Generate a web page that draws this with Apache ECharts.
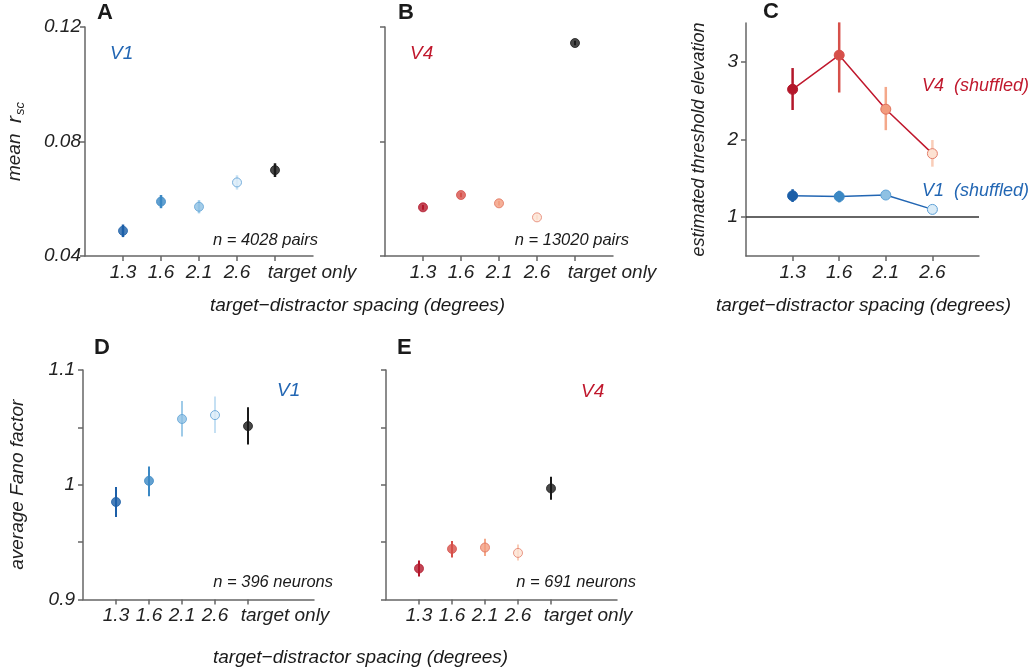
<!DOCTYPE html>
<html>
<head>
<meta charset="utf-8">
<title>crowding rsc / Fano / threshold</title>
<script src="https://cdn.jsdelivr.net/npm/echarts@6/dist/echarts.min.js"></script>
<style>
  html, body { margin: 0; padding: 0; background: #fff; }
  #chart { width: 1035px; height: 669px; }
</style>
</head>
<body>
<div id="chart"></div>
<script>
// ---- data ----
var spacing = ['1.3', '1.6', '2.1', '2.6', 'target only'];
var xPos = [1, 2, 3, 4, 5];

// A: V1 mean r_sc
var v1Rsc = [0.0488, 0.0590, 0.0572, 0.0657, 0.0700];
var v1RscErr = [0.0022, 0.0023, 0.0023, 0.0025, 0.0024];
// B: V4 mean r_sc
var v4Rsc = [0.0570, 0.0613, 0.0584, 0.0535, 0.1144];
var v4RscErr = [0.0008, 0.0008, 0.0008, 0.0008, 0.0008];

// C: estimated threshold elevation (shuffled)
var v4Thresh = [2.646, 3.086, 2.39, 1.818];
var v4ThreshLo = [2.38, 2.605, 2.12, 1.65];
var v4ThreshHi = [2.92, 3.508, 2.677, 1.994];
var v1Thresh = [1.275, 1.265, 1.285, 1.10];
var v1ThreshLo = [1.195, 1.19, 1.225, 1.085];
var v1ThreshHi = [1.36, 1.34, 1.335, 1.115];

// D: V1 average Fano factor
var v1Fano = [0.985, 1.0034, 1.0573, 1.0607, 1.0511];
var v1FanoLo = [0.972, 0.990, 1.042, 1.045, 1.035];
var v1FanoHi = [0.998, 1.016, 1.073, 1.077, 1.0675];
// E: V4 average Fano factor
var v4Fano = [0.927, 0.9441, 0.9453, 0.9406, 0.9968];
var v4FanoLo = [0.920, 0.9366, 0.938, 0.934, 0.987];
var v4FanoHi = [0.934, 0.951, 0.953, 0.948, 1.007];

// ---- styles ----
var FONT = 'Liberation Sans, Arial, Helvetica, sans-serif';
var blueFill = ['#1c5fa8', '#3b88c4', '#8ec1e3', '#d9ebf7', '#1a1a1a'];
var blueEdge = ['#1c5fa8', '#3b88c4', '#5fa2d6', '#5d9fd5', '#1a1a1a'];
var blueBar  = ['#1c5fa8', '#3b88c4', '#9fcbe8', '#c5e0f3', '#1a1a1a'];
var redFill  = ['#b3172a', '#d6504a', '#f29c7e', '#fde2d2', '#1a1a1a'];
var redEdge  = ['#b3172a', '#d6504a', '#e0705a', '#e4806c', '#1a1a1a'];
var redBar   = ['#b3172a', '#d6504a', '#f4a88a', '#f9cdb8', '#1a1a1a'];
var v1Color = '#2266b3', v4Color = '#c0182d';

var axisLine = { lineStyle: { color: '#666', width: 1.5 } };
var axisTick = { length: 5, lineStyle: { color: '#666', width: 1.5 } };
var tickFont = { fontFamily: FONT, fontStyle: 'italic', fontSize: 19, color: '#222' };

function pts(vals, fill, edge) {
  return vals.map(function (v, i) {
    return { value: [xPos[i], v], itemStyle: { color: fill[i], borderColor: edge[i], borderWidth: 1 } };
  });
}
function bars(lo, hi) {
  return lo.map(function (l, i) { return [xPos[i], l, hi[i]]; });
}
function symBars(vals, err) {
  return vals.map(function (v, i) { return [xPos[i], v - err[i], v + err[i]]; });
}
function errSeries(idx, data, colors, w) {
  return {
    type: 'custom', xAxisIndex: idx, yAxisIndex: idx, z: 1, silent: true,
    data: data,
    renderItem: function (params, api) {
      var a = api.coord([api.value(0), api.value(1)]);
      var b = api.coord([api.value(0), api.value(2)]);
      return { type: 'line', shape: { x1: a[0], y1: a[1], x2: b[0], y2: b[1] },
               style: { stroke: colors[params.dataIndex], lineWidth: w } };
    }
  };
}
function xAx(idx, max, n) {
  return {
    gridIndex: idx, type: 'value', min: 0, max: max,
    axisLine: axisLine, splitLine: { show: false },
    axisTick: { show: true, length: 5, lineStyle: axisTick.lineStyle, customValues: xPos.slice(0, n) },
    axisLabel: Object.assign({ margin: 7, hideOverlap: false, customValues: xPos.slice(0, n),
      formatter: function (v) {
        var s = spacing[v - 1];
        return v === 5 ? '{t|' + s + '}' : s;
      },
      rich: { t: { fontFamily: FONT, fontStyle: 'italic', fontSize: 19, color: '#222', padding: [0, 0, 0, 74] } }
    }, tickFont)
  };
}

var chart = echarts.init(document.getElementById('chart'));
var option = {
  animation: false,
  grid: [
    { left: 85, top: 27, width: 228, height: 229, outerBoundsMode: 'none' },
    { left: 385, top: 27, width: 228, height: 229, outerBoundsMode: 'none' },
    { left: 746, top: 23, width: 233, height: 233, outerBoundsMode: 'none' },
    { left: 83, top: 370, width: 231, height: 229.5, outerBoundsMode: 'none' },
    { left: 386, top: 370, width: 231, height: 229.5, outerBoundsMode: 'none' }
  ],
  xAxis: [xAx(0, 6, 5), xAx(1, 6, 5), xAx(2, 5, 4), xAx(3, 7, 5), xAx(4, 7, 5)],
  yAxis: [
    { gridIndex: 0, type: 'value', min: 0.04, max: 0.12, interval: 0.04,
      axisLine: axisLine, axisTick: axisTick, splitLine: { show: false },
      axisLabel: Object.assign({ margin: 4, formatter: function (v) { return v.toFixed(2); } }, tickFont),
      name: '{m|mean  }{r|r}{s|sc}', nameLocation: 'middle', nameGap: 58,
      nameTextStyle: { rich: {
        m: { fontFamily: FONT, fontStyle: 'italic', fontSize: 19, color: '#222', verticalAlign: 'top', lineHeight: 22 },
        r: { fontFamily: FONT, fontStyle: 'italic', fontSize: 21, color: '#222', verticalAlign: 'top', lineHeight: 22 },
        s: { fontFamily: FONT, fontStyle: 'italic', fontSize: 13, color: '#222', verticalAlign: 'top', lineHeight: 22, padding: [9, 0, 0, 1] }
      } } },
    { gridIndex: 1, type: 'value', min: 0.04, max: 0.12, interval: 0.04,
      axisLine: axisLine, axisTick: axisTick, splitLine: { show: false }, axisLabel: { show: false } },
    { gridIndex: 2, type: 'value', min: 0.5, max: 3.5,
      axisLine: axisLine, splitLine: { show: false },
      axisTick: { length: 5, lineStyle: axisTick.lineStyle, customValues: [1, 2, 3] },
      axisLabel: Object.assign({ margin: 8, customValues: [1, 2, 3] }, tickFont),
      name: 'estimated threshold elevation', nameLocation: 'middle', nameGap: 38,
      nameTextStyle: { fontFamily: FONT, fontStyle: 'italic', fontSize: 18, color: '#222' } },
    { gridIndex: 3, type: 'value', min: 0.9, max: 1.1, interval: 0.05,
      axisLine: axisLine, axisTick: axisTick, splitLine: { show: false },
      axisLabel: Object.assign({ margin: 8, customValues: [0.9, 1, 1.1] }, tickFont),
      name: 'average Fano factor', nameLocation: 'middle', nameGap: 56,
      nameTextStyle: { fontFamily: FONT, fontStyle: 'italic', fontSize: 19, color: '#222' } },
    { gridIndex: 4, type: 'value', min: 0.9, max: 1.1, interval: 0.05,
      axisLine: axisLine, axisTick: axisTick, splitLine: { show: false }, axisLabel: { show: false } }
  ],
  series: [
    errSeries(0, symBars(v1Rsc, v1RscErr), blueBar, 2.5),
    { type: 'scatter', xAxisIndex: 0, yAxisIndex: 0, symbolSize: 9, z: 3, data: pts(v1Rsc, blueFill, blueEdge) },
    errSeries(1, symBars(v4Rsc, v4RscErr), redBar, 2),
    { type: 'scatter', xAxisIndex: 1, yAxisIndex: 1, symbolSize: 9, z: 3, data: pts(v4Rsc, redFill, redEdge) },

    errSeries(2, bars(v4ThreshLo, v4ThreshHi), redBar, 2.5),
    errSeries(2, bars(v1ThreshLo, v1ThreshHi), blueBar, 2.5),
    { type: 'line', xAxisIndex: 2, yAxisIndex: 2, symbol: 'circle', symbolSize: 10, z: 3,
      lineStyle: { color: v4Color, width: 1.5 }, data: pts(v4Thresh, redFill, redEdge) },
    { type: 'line', xAxisIndex: 2, yAxisIndex: 2, symbol: 'circle', symbolSize: 10, z: 3,
      lineStyle: { color: v1Color, width: 1.5 }, data: pts(v1Thresh, blueFill, blueEdge),
      markLine: { silent: true, symbol: 'none', label: { show: false },
        lineStyle: { color: '#333', width: 1.5, type: 'solid' }, data: [{ yAxis: 1 }] } },

    errSeries(3, bars(v1FanoLo, v1FanoHi), blueBar, 2),
    { type: 'scatter', xAxisIndex: 3, yAxisIndex: 3, symbolSize: 9, z: 3, data: pts(v1Fano, blueFill, blueEdge) },
    errSeries(4, bars(v4FanoLo, v4FanoHi), redBar, 2),
    { type: 'scatter', xAxisIndex: 4, yAxisIndex: 4, symbolSize: 9, z: 3, data: pts(v4Fano, redFill, redEdge) }
  ],
  graphic: [
    { type: 'text', left: 97, top: 2, style: { text: 'A', font: 'bold 22px ' + FONT, fill: '#1a1a1a' } },
    { type: 'text', left: 398, top: 2, style: { text: 'B', font: 'bold 22px ' + FONT, fill: '#1a1a1a' } },
    { type: 'text', left: 763, top: 1, style: { text: 'C', font: 'bold 22px ' + FONT, fill: '#1a1a1a' } },
    { type: 'text', left: 94, top: 337, style: { text: 'D', font: 'bold 22px ' + FONT, fill: '#1a1a1a' } },
    { type: 'text', left: 397, top: 337, style: { text: 'E', font: 'bold 22px ' + FONT, fill: '#1a1a1a' } },

    { type: 'text', left: 110, top: 44, style: { text: 'V1', font: 'italic 19px ' + FONT, fill: v1Color } },
    { type: 'text', left: 410, top: 44, style: { text: 'V4', font: 'italic 19px ' + FONT, fill: v4Color } },
    { type: 'text', left: 277, top: 381, style: { text: 'V1', font: 'italic 19px ' + FONT, fill: v1Color } },
    { type: 'text', left: 581, top: 382, style: { text: 'V4', font: 'italic 19px ' + FONT, fill: v4Color } },
    { type: 'text', left: 922, top: 77, style: { text: 'V4  (shuffled)', font: 'italic 18px ' + FONT, fill: v4Color } },
    { type: 'text', left: 922, top: 182, style: { text: 'V1  (shuffled)', font: 'italic 18px ' + FONT, fill: v1Color } },

    { type: 'text', right: 1035 - 318, top: 232, style: { text: 'n = 4028 pairs', font: 'italic 16.5px ' + FONT, fill: '#1a1a1a' } },
    { type: 'text', right: 1035 - 629, top: 232, style: { text: 'n = 13020 pairs', font: 'italic 16.5px ' + FONT, fill: '#1a1a1a' } },
    { type: 'text', right: 1035 - 333, top: 574, style: { text: 'n = 396 neurons', font: 'italic 16.5px ' + FONT, fill: '#1a1a1a' } },
    { type: 'text', right: 1035 - 636, top: 574, style: { text: 'n = 691 neurons', font: 'italic 16.5px ' + FONT, fill: '#1a1a1a' } },

    { type: 'text', left: 210, top: 296, style: { text: 'target\u2212distractor spacing (degrees)', font: 'italic 19px ' + FONT, fill: '#1a1a1a' } },
    { type: 'text', left: 716, top: 296, style: { text: 'target\u2212distractor spacing (degrees)', font: 'italic 19px ' + FONT, fill: '#1a1a1a' } },
    { type: 'text', left: 213, top: 648, style: { text: 'target\u2212distractor spacing (degrees)', font: 'italic 19px ' + FONT, fill: '#1a1a1a' } }
  ]
};
chart.setOption(option);
</script>
</body>
</html>
